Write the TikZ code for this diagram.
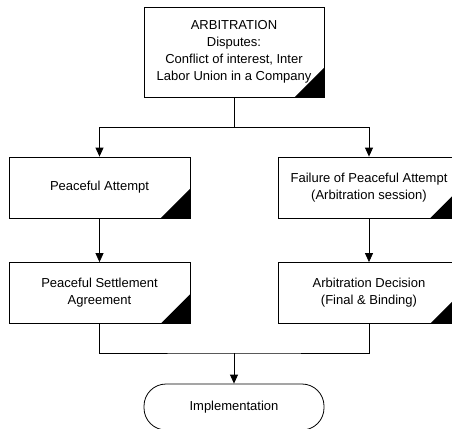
\documentclass[tikz,border=0pt]{standalone}
\usepackage{fontspec}
\setmainfont{Liberation Sans}
\usetikzlibrary{arrows.meta}

\begin{document}
\begin{tikzpicture}[x=1pt,y=-1pt,line width=0.8pt,
    every node/.style={font=\fontsize{13}{17}\selectfont},
    box/.style={draw, fill=white, align=center, minimum width=181pt, minimum height=61pt, inner sep=0pt},
    arr/.style={-{Triangle[width=8pt,length=9pt]}}]
                \useasboundingbox (0,0) rectangle (452,428);
                \node[box, minimum width=180pt, minimum height=90pt] (top) at (234,52)
                {ARBITRATION\\Disputes:\\Conflict of interest, Inter\\Labor Union in a Company};
                \node[box] (pa) at (99.5,187.5) {Peaceful Attempt};
                \node[box] (fpa) at (369,187.5) {Failure of Peaceful Attempt\\(Arbitration session)};
                \node[box] (psa) at (99.5,293) {Peaceful Settlement\\Agreement};
                \node[box] (ad) at (369,293) {Arbitration Decision\\(Final \& Binding)};
                \node[draw, rounded corners=22pt, minimum width=180pt, minimum height=46pt] (impl) at (234,407) {Implementation};
                \foreach \n in {top,pa,fpa,psa,ad}
                    \fill (\n.south east) -- ++(-30,0) -- ++(30,-30) -- cycle;
                \coordinate (split) at (234,127);
                \coordinate (join) at (234,353);
                \draw (top) -- (split);
                \draw[arr] (split) -| (pa.north);
                \draw[arr] (split) -| (fpa.north);
                \draw[arr] (pa) -- (psa);
                \draw[arr] (fpa) -- (ad);
                \draw (psa.south) |- (join) -| (ad.south);
                \draw[arr] (join) -- (impl);
            \end{tikzpicture}
\end{document}
